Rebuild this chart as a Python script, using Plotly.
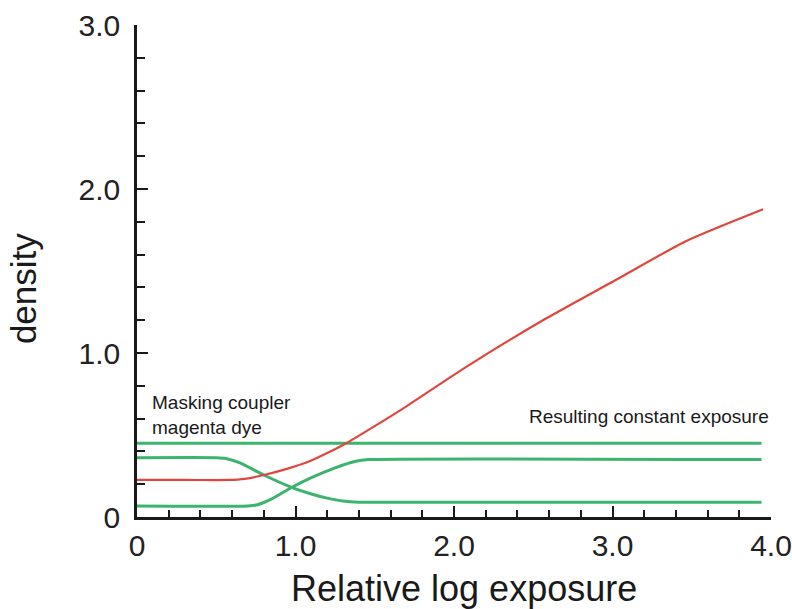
import plotly.graph_objects as go

# Data
red_x = [0.0, 0.30, 0.58, 0.68, 0.80, 0.95, 1.10, 1.20, 1.32, 1.51, 1.66, 2.08, 2.58, 3.02, 3.46, 3.95]
red_y = [0.226, 0.226, 0.226, 0.233, 0.256, 0.295, 0.345, 0.39, 0.45, 0.56, 0.65, 0.917, 1.21, 1.445, 1.68, 1.876]

top_x = [0.0, 3.94]
top_y = [0.45, 0.45]

desc_x = [0.0, 0.50, 0.56, 0.65, 0.80, 0.975, 1.10, 1.20, 1.30, 1.40, 3.94]
desc_y = [0.362, 0.362, 0.357, 0.33, 0.256, 0.181, 0.14, 0.115, 0.097, 0.09, 0.09]

asc_x = [0.0, 0.70, 0.76, 0.85, 0.975, 1.10, 1.25, 1.38, 1.46, 3.94]
asc_y = [0.067, 0.067, 0.075, 0.11, 0.18, 0.24, 0.30, 0.34, 0.35, 0.35]

x_tickvals = [0, 1, 2, 3, 4]
x_ticktext = ["0", "1.0", "2.0", "3.0", "4.0"]
y_tickvals = [0, 1, 2, 3]
y_ticktext = ["0", "1.0", "2.0", "3.0"]

GREEN = "#3cb46e"
RED = "#e0463c"
FONT = "Liberation Sans, Arial, Helvetica, sans-serif"

fig = go.Figure()
for xs, ys in [(top_x, top_y), (desc_x, desc_y), (asc_x, asc_y)]:
    fig.add_trace(go.Scatter(x=xs, y=ys, mode="lines",
                             line=dict(color=GREEN, width=3, shape="spline", smoothing=0.5),
                             hoverinfo="skip", showlegend=False))
fig.add_trace(go.Scatter(x=red_x, y=red_y, mode="lines",
                         line=dict(color=RED, width=2.2, shape="spline", smoothing=0.6),
                         hoverinfo="skip", showlegend=False))

fig.update_layout(
    template="none",
    width=792, height=609,
    margin=dict(l=137, r=21, t=25, b=92),
    paper_bgcolor="white", plot_bgcolor="white",
    font=dict(family=FONT, color="#1a1a1a"),
    xaxis=dict(range=[0, 4.0], showgrid=False, zeroline=False, automargin=False,
               showline=True, linecolor="#1a1a1a", linewidth=2.5,
               ticks="inside", ticklen=11, tickwidth=2, tickcolor="#1a1a1a",
               tickvals=x_tickvals, ticktext=x_ticktext,
               tickfont=dict(size=30, family=FONT, color="#222"),
               ticklabelstandoff=0,
               minor=dict(dtick=0.2, ticks="inside", ticklen=7, tickwidth=2,
                          tickcolor="#1a1a1a", showgrid=False)),
    yaxis=dict(range=[0, 3.0], showgrid=False, zeroline=False, automargin=False,
               showline=True, linecolor="#1a1a1a", linewidth=2.5,
               ticks="inside", ticklen=11, tickwidth=2, tickcolor="#1a1a1a",
               tickvals=y_tickvals, ticktext=y_ticktext,
               tickfont=dict(size=30, family=FONT, color="#222"),
               ticklabelstandoff=8,
               minor=dict(dtick=0.2, ticks="inside", ticklen=8, tickwidth=2,
                          tickcolor="#1a1a1a", showgrid=False)),
)

fig.add_annotation(text="Relative log exposure", xref="paper", yref="paper",
                   x=0.515, y=-0.145, xanchor="center", yanchor="middle",
                   showarrow=False, font=dict(size=36, family=FONT, color="#1a1a1a"))
fig.add_annotation(text="density", xref="paper", yref="paper",
                   x=-0.18, y=0.465, xanchor="center", yanchor="middle", textangle=-90,
                   showarrow=False, font=dict(size=35, family=FONT, color="#1a1a1a"))
fig.add_annotation(text="Masking coupler<br>magenta dye", xref="x", yref="y",
                   x=0.08, y=0.47, xanchor="left", yanchor="bottom", align="left",
                   showarrow=False, font=dict(size=19, family=FONT, color="#1a1a1a"))
fig.add_annotation(text="Resulting constant exposure", xref="x", yref="y",
                   x=4.0, y=0.61, xanchor="right", yanchor="middle", align="right",
                   showarrow=False, font=dict(size=19, family=FONT, color="#1a1a1a"))

fig.write_html("out.html")
